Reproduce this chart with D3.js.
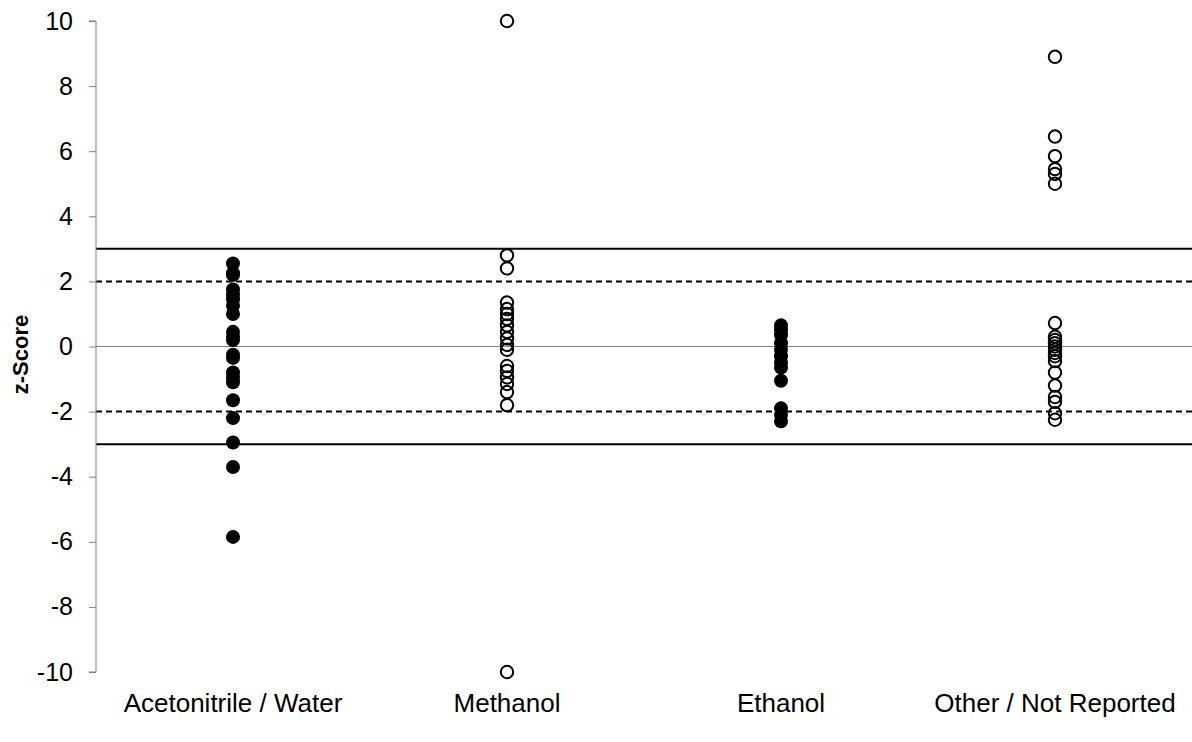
<!DOCTYPE html>
<html>
<head>
<meta charset="utf-8">
<script src="https://cdn.jsdelivr.net/npm/d3@7"></script>
<style>
  html, body { margin: 0; padding: 0; background: #fff; }
  svg { display: block; font-family: "Liberation Sans", Arial, sans-serif; }
</style>
</head>
<body>
<svg id="chart" width="1192" height="742"></svg>
<script>
// Solvent groups shown along the x axis
const categories = ["Acetonitrile / Water", "Methanol", "Ethanol", "Other / Not Reported"];

// z-scores per group
const acetonitrileWater = [2.55, 2.25, 2.2, 1.75, 1.6, 1.45, 1.25, 1.0, 0.45, 0.3, 0.2, -0.25, -0.35, -0.8, -0.95, -1.1, -1.65, -2.2, -2.95, -3.7, -5.85];
const methanol = [10, 2.8, 2.4, 1.35, 1.15, 1.0, 0.85, 0.65, 0.45, 0.25, 0.05, -0.1, -0.6, -0.75, -0.95, -1.15, -1.4, -1.8, -10];
const ethanol = [0.65, 0.5, 0.35, 0.1, -0.1, -0.3, -0.5, -0.65, -1.05, -1.9, -2.1, -2.3];
const otherNotReported = [8.9, 6.45, 5.85, 5.45, 5.3, 5.0, 0.72, 0.3, 0.2, 0.1, 0.0, -0.1, -0.2, -0.3, -0.45, -0.8, -1.2, -1.55, -1.7, -2.05, -2.25];

const seriesValues = [acetonitrileWater, methanol, ethanol, otherNotReported];
const filledSeries = [true, false, true, false];

// Axis ticks and reference bands
const yTicks = [10, 8, 6, 4, 2, 0, -2, -4, -6, -8, -10];
const limitLines = [3, -3];
const warningLines = [2, -2];
const zeroLine = [0];

const svg = d3.select("#chart");
const margin = { left: 96, right: 0, top: 21, bottom: 70 };
const W = 1192, H = 742;

const x = d3.scaleBand()
  .domain(categories)
  .range([margin.left, W - margin.right])
  .padding(0);

const y = d3.scaleLinear()
  .domain([-10, 10])
  .range([672, margin.top]);

// Horizontal reference lines
const lineG = svg.append("g");
lineG.selectAll(".zero").data(zeroLine).join("line")
  .attr("x1", margin.left).attr("x2", W)
  .attr("y1", d => y(d)).attr("y2", d => y(d))
  .attr("stroke", "#808080").attr("stroke-width", 1);
lineG.selectAll(".warn").data(warningLines).join("line")
  .attr("x1", margin.left).attr("x2", W)
  .attr("y1", d => y(d)).attr("y2", d => y(d))
  .attr("stroke", "#000").attr("stroke-width", 2)
  .attr("stroke-dasharray", "6,4");
lineG.selectAll(".limit").data(limitLines).join("line")
  .attr("x1", margin.left).attr("x2", W)
  .attr("y1", d => y(d)).attr("y2", d => y(d))
  .attr("stroke", "#000").attr("stroke-width", 2);

// Y axis
const yAxis = d3.axisLeft(y)
  .tickValues(yTicks)
  .tickSize(7)
  .tickPadding(16)
  .tickFormat(d => String(d));
const yG = svg.append("g")
  .attr("transform", `translate(${margin.left},0)`)
  .call(yAxis);
yG.attr("font-size", null).attr("font-family", null);
yG.select(".domain").attr("stroke", "#808080").attr("d", `M-7,${y(10)}H0V${y(-10)}H-7`);
yG.selectAll(".tick line").attr("stroke", "#808080");
yG.selectAll(".tick text")
  .attr("font-size", 25)
  .attr("fill", "#000");

// Y axis title
svg.append("text")
  .attr("transform", `translate(28,${y(0) + 8}) rotate(-90)`)
  .attr("text-anchor", "middle")
  .attr("font-size", 22)
  .attr("font-weight", "bold")
  .text("z-Score");

// Category labels
svg.append("g").selectAll("text").data(categories).join("text")
  .attr("x", d => x(d) + x.bandwidth() / 2)
  .attr("y", 712)
  .attr("text-anchor", "middle")
  .attr("font-size", 26)
  .text(d => d);

// Points
const pts = [];
seriesValues.forEach((vals, i) => {
  vals.forEach(v => pts.push({ cat: categories[i], v, filled: filledSeries[i] }));
});
svg.append("g").selectAll("circle").data(pts).join("circle")
  .attr("cx", d => x(d.cat) + x.bandwidth() / 2)
  .attr("cy", d => y(d.v))
  .attr("r", d => d.filled ? 7 : 6.2)
  .attr("fill", d => d.filled ? "#000" : "none")
  .attr("stroke", "#000")
  .attr("stroke-width", d => d.filled ? 0 : 2);
</script>
</body>
</html>
